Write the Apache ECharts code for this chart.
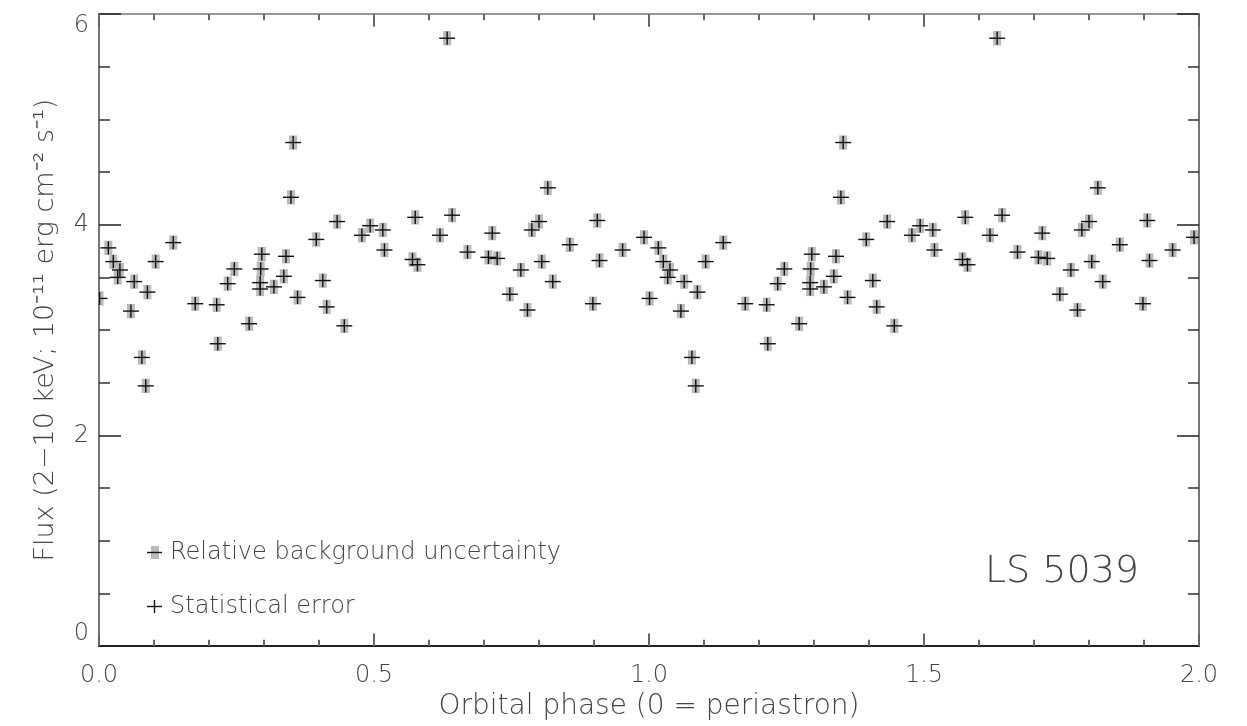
<!DOCTYPE html>
<html>
<head>
<meta charset="utf-8">
<title>LS 5039 orbital light curve</title>
<script src="https://cdn.jsdelivr.net/npm/echarts@6/dist/echarts.min.js"></script>
<style>
  html, body { margin: 0; padding: 0; background: #fff; }
  #chart { width: 1247px; height: 726px; }
</style>
</head>
<body>
<div id="chart"></div>
<script>
// Orbital phase of each X-ray observation (0 = periastron), one cycle
const phase = [
  0.001, 0.017, 0.026, 0.034, 0.038, 0.058, 0.064, 0.078, 0.085, 0.088,
  0.103, 0.135, 0.175, 0.214, 0.216, 0.234, 0.246, 0.273, 0.293, 0.293,
  0.294, 0.296, 0.318, 0.336, 0.340, 0.349, 0.353, 0.361, 0.395, 0.407,
  0.414, 0.433, 0.446, 0.478, 0.493, 0.516, 0.519, 0.570, 0.575, 0.579,
  0.620, 0.633, 0.642, 0.670, 0.708, 0.715, 0.724, 0.747, 0.767, 0.779,
  0.787, 0.800, 0.805, 0.816, 0.825, 0.856, 0.898, 0.906, 0.910, 0.952,
  0.991
];

// 2-10 keV flux in units of 1e-11 erg cm^-2 s^-1
const flux = [
  3.30, 3.78, 3.65, 3.50, 3.57, 3.18, 3.46, 2.74, 2.47, 3.36,
  3.65, 3.83, 3.25, 3.24, 2.87, 3.44, 3.58, 3.06, 3.45, 3.39,
  3.58, 3.72, 3.41, 3.51, 3.70, 4.26, 4.78, 3.31, 3.86, 3.47,
  3.22, 4.03, 3.04, 3.90, 3.99, 3.95, 3.76, 3.67, 4.07, 3.62,
  3.90, 5.77, 4.09, 3.74, 3.69, 3.92, 3.68, 3.34, 3.57, 3.19,
  3.95, 4.03, 3.65, 4.35, 3.46, 3.81, 3.25, 4.04, 3.66, 3.76,
  3.88
];

// Error sizes: half-width of the phase bin, statistical and background flux errors
const phaseHalfWidth = 0.0145;
const statError = 0.063;
const bkgError = 0.068;

// The light curve is shown over two orbital cycles
const cycles = [0, 1];

const xTicks = [0.0, 0.5, 1.0, 1.5, 2.0];
const yTicks = [0, 2, 4, 6];

const points = [];
cycles.forEach(function (c) {
  phase.forEach(function (p, i) { points.push([p + c, flux[i]]); });
});

const FONT = '"DejaVu Sans", sans-serif';
const TEXT_COLOR = '#444';
const LINE_COLOR = '#111';
const BKG_COLOR = '#bababa';

const chart = echarts.init(document.getElementById('chart'), null, { renderer: 'canvas' });

// Ticks point into the plot frame on all four sides
const baseX = {
  type: 'value',
  min: xTicks[0],
  max: xTicks[xTicks.length - 1],
  interval: xTicks[1] - xTicks[0],
  splitLine: { show: false },
  axisTick: { show: true, inside: true, length: 12.7, lineStyle: { color: '#666', width: 2 } },
  minorTick: { show: true, splitNumber: 5, length: 6.3, lineStyle: { color: '#666', width: 2 } }
};

const baseY = {
  type: 'value',
  min: yTicks[0],
  max: yTicks[yTicks.length - 1],
  interval: yTicks[1] - yTicks[0],
  splitLine: { show: false },
  axisTick: { show: true, inside: true, length: 22, lineStyle: { color: '#222', width: 1.5 } },
  minorTick: { show: true, splitNumber: 4, length: 11, lineStyle: { color: '#333', width: 1.5 } }
};

const option = {
  animation: false,
  backgroundColor: '#ffffff',
  grid: { left: 99, right: 48, top: 14, bottom: 79 },
  xAxis: [
    Object.assign({}, baseX, {
      position: 'bottom',
      axisLine: { show: true, onZero: false, lineStyle: { color: '#222', width: 2 } },
      axisLabel: {
        show: true, margin: 18, color: TEXT_COLOR, fontFamily: FONT, fontSize: 24, fontWeight: 200,
        formatter: function (v) { return v.toFixed(1); }
      },
      name: 'Orbital phase (0 = periastron)',
      nameLocation: 'middle',
      nameGap: 46,
      nameTextStyle: { color: TEXT_COLOR, fontFamily: FONT, fontSize: 28, fontWeight: 200 }
    }),
    Object.assign({}, baseX, {
      position: 'top',
      axisLine: { show: true, onZero: false, lineStyle: { color: '#777', width: 1.5 } },
      axisLabel: { show: false }
    })
  ],
  yAxis: [
    Object.assign({}, baseY, {
      position: 'left',
      axisLine: { show: true, onZero: false, lineStyle: { color: '#777', width: 2 } },
      axisLabel: {
        show: true, margin: 10, color: TEXT_COLOR, fontFamily: FONT, fontSize: 24, fontWeight: 200,
        verticalAlignMinLabel: 'bottom', verticalAlignMaxLabel: 'top'
      },
      name: 'Flux (2\u221210 keV; 10\u207B\u00B9\u00B9 erg cm\u207B\u00B2 s\u207B\u00B9)',
      nameLocation: 'middle',
      nameRotate: 90,
      nameGap: 40,
      nameTextStyle: { color: TEXT_COLOR, fontFamily: FONT, fontSize: 27, fontWeight: 200 }
    }),
    Object.assign({}, baseY, {
      position: 'right',
      axisLine: { show: true, onZero: false, lineStyle: { color: '#777', width: 2 } },
      axisLabel: { show: false }
    })
  ],
  series: [
    {
      name: 'Relative background uncertainty',
      type: 'custom',
      silent: true,
      clip: true,
      data: points,
      renderItem: function (params, api) {
        const x = api.value(0), y = api.value(1);
        const top = api.coord([x, y + bkgError]);
        const bottom = api.coord([x, y - bkgError]);
        return {
          type: 'rect',
          shape: { x: top[0] - 4, y: top[1], width: 8, height: bottom[1] - top[1] },
          style: { fill: BKG_COLOR }
        };
      }
    },
    {
      name: 'Statistical error',
      type: 'custom',
      silent: true,
      clip: true,
      data: points,
      renderItem: function (params, api) {
        const x = api.value(0), y = api.value(1);
        const left = api.coord([x - phaseHalfWidth, y]);
        const right = api.coord([x + phaseHalfWidth, y]);
        const top = api.coord([x, y + statError]);
        const bottom = api.coord([x, y - statError]);
        const stroke = { stroke: LINE_COLOR, lineWidth: 1.4 };
        return {
          type: 'group',
          children: [
            { type: 'line', shape: { x1: left[0], y1: left[1], x2: right[0], y2: right[1] }, style: stroke },
            { type: 'line', shape: { x1: top[0], y1: top[1], x2: bottom[0], y2: bottom[1] }, style: stroke }
          ]
        };
      }
    }
  ],
  graphic: [
    // key: background uncertainty
    { type: 'rect', shape: { x: 151, y: 546, width: 8, height: 13 }, style: { fill: BKG_COLOR } },
    { type: 'line', shape: { x1: 147, y1: 552.5, x2: 162, y2: 552.5 }, style: { stroke: LINE_COLOR, lineWidth: 1.4 } },
    {
      type: 'text', x: 170, y: 553,
      style: { text: 'Relative background uncertainty', fill: TEXT_COLOR, font: '200 24px ' + FONT, textAlign: 'left', textVerticalAlign: 'middle' }
    },
    // key: statistical error
    { type: 'line', shape: { x1: 147, y1: 606.5, x2: 162, y2: 606.5 }, style: { stroke: LINE_COLOR, lineWidth: 1.4 } },
    { type: 'line', shape: { x1: 154.5, y1: 600, x2: 154.5, y2: 613 }, style: { stroke: LINE_COLOR, lineWidth: 1.4 } },
    {
      type: 'text', x: 170, y: 607,
      style: { text: 'Statistical error', fill: TEXT_COLOR, font: '200 24px ' + FONT, textAlign: 'left', textVerticalAlign: 'middle' }
    },
    // source name
    {
      type: 'text', x: 1139, y: 572,
      style: { text: 'LS 5039', fill: TEXT_COLOR, font: '200 38px ' + FONT, textAlign: 'right', textVerticalAlign: 'middle' }
    }
  ]
};

chart.setOption(option);
</script>
</body>
</html>
